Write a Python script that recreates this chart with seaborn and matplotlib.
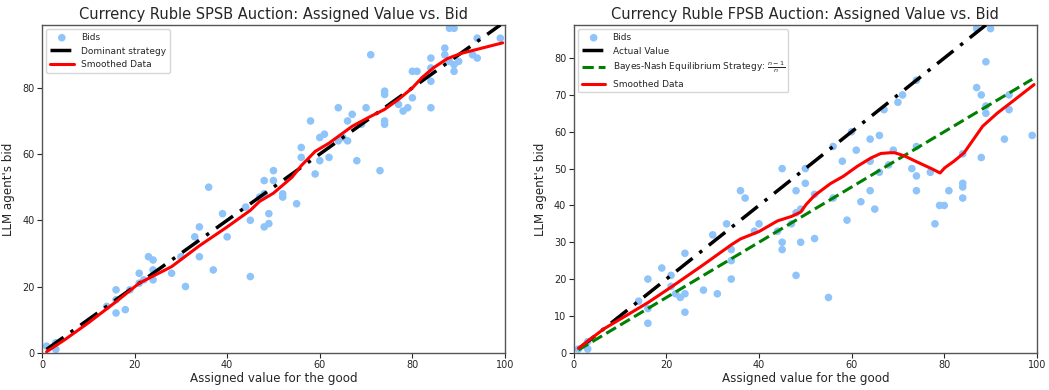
import numpy as np
import pandas as pd
import matplotlib
matplotlib.use("Agg")
import matplotlib.pyplot as plt
import seaborn as sns

# ---------------- data: SPSB (left) ----------------
spsb_value = [1, 3, 3, 14, 16, 16, 16, 18, 19, 21, 21, 22, 23, 24, 24, 24, 28, 30, 31, 33,
              34, 34, 36, 37, 39, 40, 44, 45, 45, 47, 48, 48, 48, 49, 49, 50, 50, 52, 52, 55,
              56, 56, 58, 59, 60, 60, 61, 62, 64, 64, 65, 66, 66, 67, 68, 69, 70, 71, 73, 74,
              74, 74, 74, 77, 78, 79, 80, 80, 81, 84, 84, 84, 84, 87, 87, 88, 89, 88, 89, 90,
              89, 93, 94, 94, 99]
spsb_bid = [2, 3, 1, 14, 19, 16, 12, 13, 19, 24, 21, 22, 29, 28, 25, 22, 24, 29, 20, 35,
            38, 29, 50, 25, 42, 35, 44, 40, 23, 47, 48, 38, 52, 42, 39, 55, 52, 48, 47, 45,
            62, 59, 70, 54, 65, 58, 66, 59, 74, 64, 65, 70, 64, 72, 58, 69, 74, 90, 55, 79,
            78, 70, 69, 75, 73, 74, 77, 85, 85, 89, 86, 82, 74, 92, 90, 98, 98, 88, 87, 88,
            85, 90, 95, 89, 95]
spsb_smooth_x = [1, 5, 10, 16, 21, 28, 34, 40, 45, 47, 50, 54, 56, 59, 62, 67, 71, 74, 77,
                 80, 82, 84.5, 87.5, 90.5, 99.5]
spsb_smooth_y = [0.3, 4, 9, 15.4, 21, 26, 32.3, 38, 43, 45.7, 48.2, 53, 56.5, 60.8, 63.3,
                 68.4, 71.4, 73.5, 76.5, 80, 83, 86, 88.8, 90.4, 93.6]

# ---------------- data: FPSB (right) ----------------
fpsb_value = [1, 3, 3, 14, 16, 16, 16, 19, 21, 21, 22, 23, 24, 24, 24, 28, 30, 31, 33, 34,
              34, 34, 36, 37, 39, 40, 44, 45, 45, 45, 47, 48, 48, 48, 49, 49, 50, 50, 52, 52,
              55, 56, 56, 58, 59, 60, 61, 62, 64, 64, 64, 65, 66, 66, 67, 68, 69, 70, 71, 73,
              74, 74, 74, 74, 77, 78, 79, 80, 81, 84, 84, 84, 84, 87, 87, 88, 88, 89, 89, 89,
              90, 93, 94, 94, 99]
fpsb_bid = [1, 3, 1, 14, 20, 12, 8, 23, 21, 18, 16, 15, 27, 16, 11, 17, 32, 16, 35, 28,
            25, 20, 44, 42, 33, 35, 33, 50, 30, 28, 35, 44, 38, 21, 39, 30, 50, 46, 43, 31,
            15, 56, 42, 52, 36, 60, 55, 41, 58, 52, 44, 39, 59, 49, 66, 51, 55, 68, 70, 50,
            74, 56, 48, 44, 49, 35, 40, 40, 44, 54, 46, 45, 42, 72, 88, 70, 53, 79, 67, 65,
            88, 58, 70, 66, 59]
fpsb_smooth_x = [1, 6.4, 16, 21, 28, 30, 34, 36, 40, 44, 47, 49, 50.2, 52, 55.4, 58.2, 61.2,
                 64.2, 66.3, 68.3, 69.3, 71.3, 74.3, 77.4, 79.1, 80.1, 82.1, 84.3, 86.3,
                 88.3, 91.5, 94.4, 99.4]
fpsb_smooth_y = [1.2, 6.4, 13.6, 17.8, 23.9, 25.7, 29.3, 30.9, 32.9, 35.8, 37, 38.2, 40.3,
                 42.7, 45.9, 47.9, 50.6, 52.9, 54.1, 54.3, 54.3, 53.5, 51.7, 49.9, 48.8,
                 50.2, 52, 54.3, 57.9, 61.5, 65.1, 67.9, 72.8]

# reference strategy lines (endpoints)
ref_x = [1, 99]
n_bidders = 4

# ---------------- plotting ----------------
sns.set_style("white")
plt.rcParams['font.family'] = ['DejaVu Sans']

fig = plt.figure(figsize=(10.49, 3.90), dpi=100)
ax1 = fig.add_axes([0.040, 0.0956, 0.4414, 0.8404])
ax2 = fig.add_axes([0.547, 0.0956, 0.4414, 0.8404])

pt_color = "#8ec4fa"

# Left: SPSB
sns.scatterplot(x=spsb_value, y=spsb_bid, ax=ax1, color=pt_color, s=30,
                edgecolor="none", label="Bids", zorder=2)
sns.lineplot(x=ref_x, y=ref_x, ax=ax1, color="black", linewidth=2.5,
             label="Dominant strategy", zorder=3)
ax1.lines[-1].set_dashes([6, 2.5, 1, 2.5])
sns.lineplot(x=spsb_smooth_x, y=spsb_smooth_y, ax=ax1, color="red", linewidth=2.2,
             label="Smoothed Data", sort=False, estimator=None, zorder=4)
ax1.set_xlim(0, 100)
ax1.set_ylim(0, max(spsb_bid) + 1)
ax1.set_yticks([0, 20, 40, 60, 80])
ax1.set_title("Currency Ruble SPSB Auction: Assigned Value vs. Bid", fontsize=10.5, pad=4)

# Right: FPSB
bne_y = [v * (n_bidders - 1) / n_bidders for v in ref_x]
sns.scatterplot(x=fpsb_value, y=fpsb_bid, ax=ax2, color=pt_color, s=30,
                edgecolor="none", label="Bids", zorder=2)
sns.lineplot(x=ref_x, y=ref_x, ax=ax2, color="black", linewidth=2.5,
             label="Actual Value", zorder=3)
ax2.lines[-1].set_dashes([6, 2.5, 1, 2.5])
sns.lineplot(x=ref_x, y=bne_y, ax=ax2, color="green", linestyle="--", linewidth=2.2,
             label=r"Bayes-Nash Equilibrium Strategy: $\frac{n-1}{n}$", zorder=3)
sns.lineplot(x=fpsb_smooth_x, y=fpsb_smooth_y, ax=ax2, color="red", linewidth=2.2,
             label="Smoothed Data", sort=False, estimator=None, zorder=4)
ax2.set_xlim(0, 100)
ax2.set_ylim(0, max(fpsb_bid) + 1)
ax2.set_yticks([0, 10, 20, 30, 40, 50, 60, 70, 80])
ax2.set_title("Currency Ruble FPSB Auction: Assigned Value vs. Bid", fontsize=10.5, pad=4)

for ax in (ax1, ax2):
    ax.set_xticks([0, 20, 40, 60, 80, 100])
    ax.set_xlabel("Assigned value for the good", fontsize=8.6, labelpad=1)
    ax.set_ylabel("LLM agent's bid", fontsize=8.6, labelpad=5)
    ax.tick_params(axis="both", labelsize=7, length=3.5, width=0.8, direction="out",
                   bottom=True, left=True, pad=2)
    for sp in ax.spines.values():
        sp.set_color("#555555")
        sp.set_linewidth(1.0)
    leg = ax.legend(loc="upper left", fontsize=6.5, frameon=True, framealpha=0.8,
                    handlelength=2.6, borderpad=0.4, labelspacing=0.5)
    leg.get_frame().set_edgecolor("#cccccc")

fig.savefig("out.png", dpi=100)
